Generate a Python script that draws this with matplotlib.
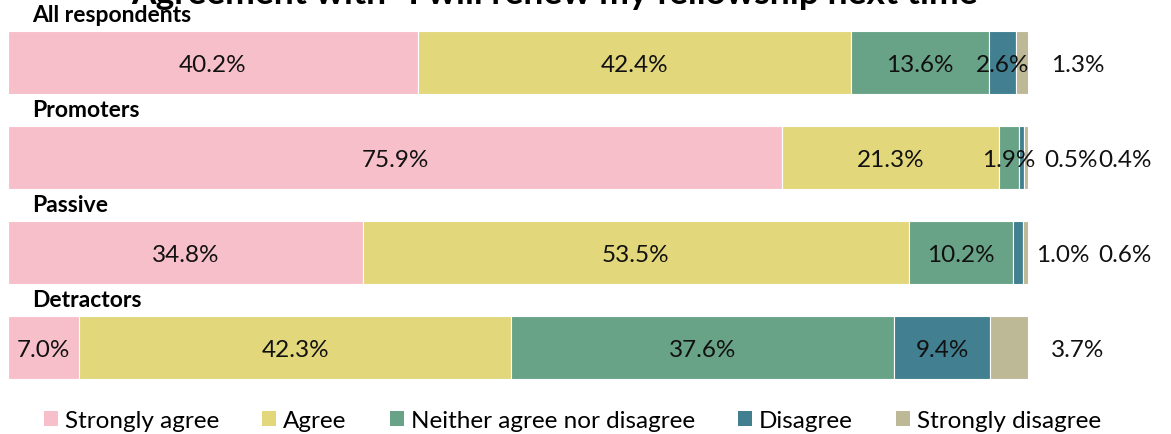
import matplotlib
matplotlib.use("Agg")
import matplotlib.pyplot as plt
from matplotlib.patches import Patch

plt.rcParams['font.family'] = ['Lato', 'DejaVu Sans']

groups = ["All respondents", "Promoters", "Passive", "Detractors"]
series = ["Strongly agree", "Agree", "Neither agree nor disagree", "Disagree", "Strongly disagree"]
strongly_agree = [40.2, 75.9, 34.8, 7.0]
agree = [42.4, 21.3, 53.5, 42.3]
neither = [13.6, 1.9, 10.2, 37.6]
disagree = [2.6, 0.5, 1.0, 9.4]
strongly_disagree = [1.3, 0.4, 0.6, 3.7]
values = [strongly_agree, agree, neither, disagree, strongly_disagree]
colors = ["#F7BFC9", "#E3D77B", "#69A387", "#417F91", "#BDB997"]
title = "Agreement with \u201cI will renew my fellowship next time"

W, H = 1171, 435
fig = plt.figure(figsize=(W / 100, H / 100), dpi=100)
ax = fig.add_axes([8 / W, 1 - 396 / H, 1020 / W, 380 / H])
ax.set_xlim(0, 100)
ax.set_ylim(3.5, -0.5)
ax.axis('off')

lab_fs = 17.5
ypos = list(range(len(groups)))
bh = 0.66
left = [0.0] * len(groups)
for s, (vals, col) in enumerate(zip(values, colors)):
    ax.barh(ypos, vals, left=left, height=bh, color=col,
            edgecolor='white', linewidth=0.8, label=series[s])
    for i, v in enumerate(vals):
        center = left[i] + v / 2
        txt = f"{v:.1f}%"
        kw = dict(ha='center', va='center_baseline', fontsize=lab_fs, color='#111111')
        if s == len(values) - 1:
            x = 109.5 if disagree[i] < 1.5 else 104.9
            ax.text(x, i, txt, clip_on=False, **kw)
        elif s == 3 and v < 1.5:
            x = 104.2 if v < 0.8 else 103.4
            ax.text(x, i, txt, clip_on=False, **kw)
        else:
            ax.text(center, i, txt, **kw)
    left = [l + v for l, v in zip(left, vals)]

for i, g in enumerate(groups):
    ax.text(2.35, i - bh / 2 - 0.105, g, ha='left', va='baseline', fontsize=16.5,
            fontweight='bold', color='black')

fig.text(555 / W, 1 - 4 / H, title, ha='center', va='baseline', fontsize=25.5,
         fontweight='bold', color='black')

leg_fs = 17.5
px = leg_fs * 100 / 72
handles = [Patch(facecolor=c, edgecolor='none') for c in colors]
fig.legend(handles, series, loc='center', bbox_to_anchor=(572.5 / W, 1 - 422 / H),
           ncol=5, frameon=False, fontsize=leg_fs, handlelength=14 / px, handleheight=14 / px,
           handletextpad=7 / px, columnspacing=43 / px, borderaxespad=0, borderpad=0)

fig.savefig("out.png", dpi=100)
